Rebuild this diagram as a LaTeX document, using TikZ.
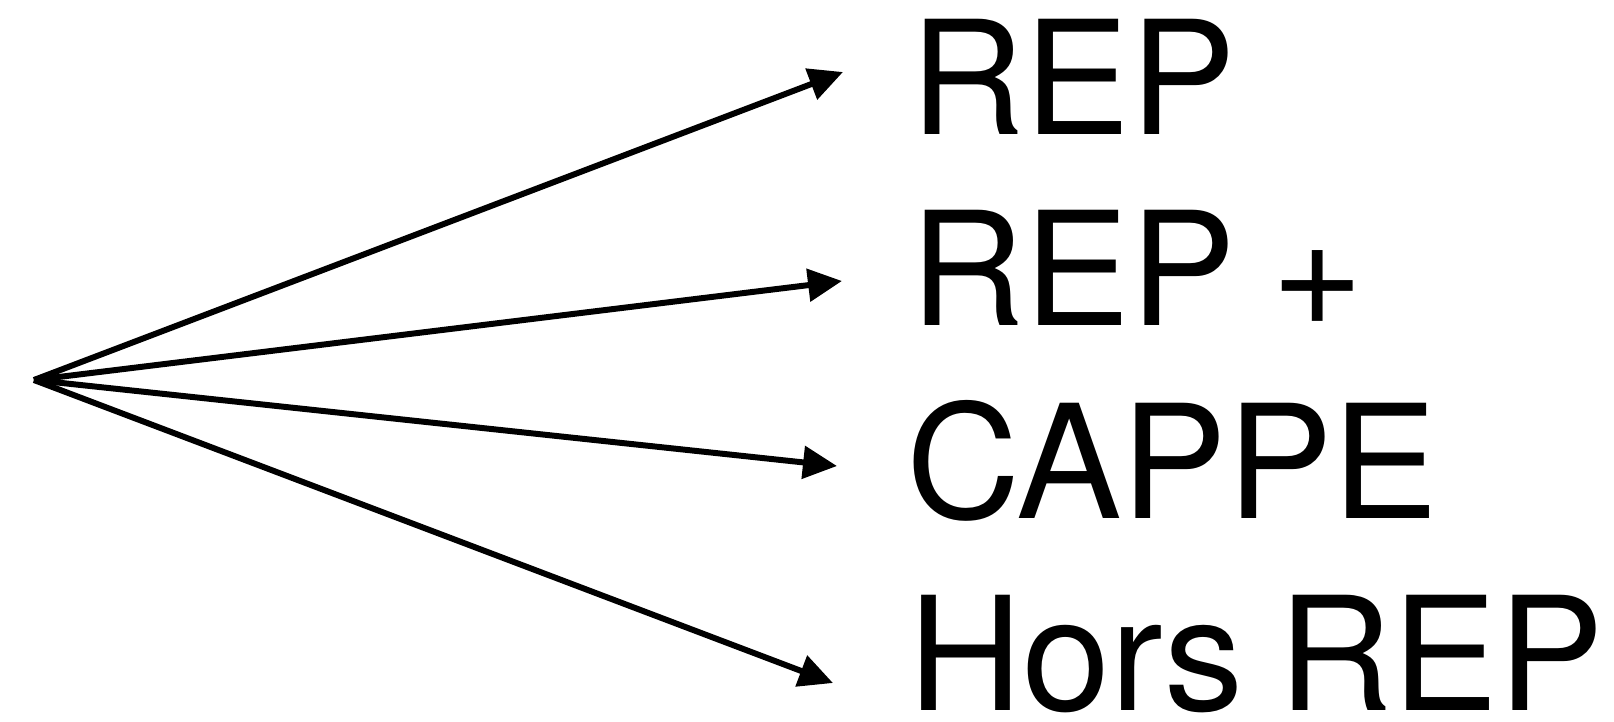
\documentclass[tikz,border=0pt]{standalone}
\usepackage{fontspec}
\setmainfont{TeX Gyre Heros}[WordSpace=0.8]
\usetikzlibrary{arrows.meta}
\usetikzlibrary{positioning}

\begin{document}
\begin{tikzpicture}
      [labelBox/.style={inner sep=0pt,anchor=base west,font=\fontsize{45}{50}\selectfont},
       choiceArrow/.style={line width=1.7pt,-{Triangle[length=0.34cm,width=0.32cm]}}]
      \useasboundingbox (0,0) rectangle (16.14,-7.21);
      \coordinate (start) at (0.34,-3.80);
      \node[labelBox] (rep) at (9.10,-1.34) {REP};
      \node[labelBox] (repPlus) at (9.10,-3.25) {REP +};
      \node[labelBox] (cappe) at (9.06,-5.18) {CAPPE};
      \node[labelBox] (horsRep) at (9.08,-7.10) {Hors REP};
      \coordinate (tipRep) at (8.43,-0.72);
      \coordinate (tipRepPlus) at (8.42,-2.81);
      \coordinate (tipCappe) at (8.37,-4.66);
      \coordinate (tipHorsRep) at (8.33,-6.83);
      \draw[choiceArrow] (start) -- (tipRep);
      \draw[choiceArrow] (start) -- (tipRepPlus);
      \draw[choiceArrow] (start) -- (tipCappe);
      \draw[choiceArrow] (start) -- (tipHorsRep);
    \end{tikzpicture}
\end{document}
